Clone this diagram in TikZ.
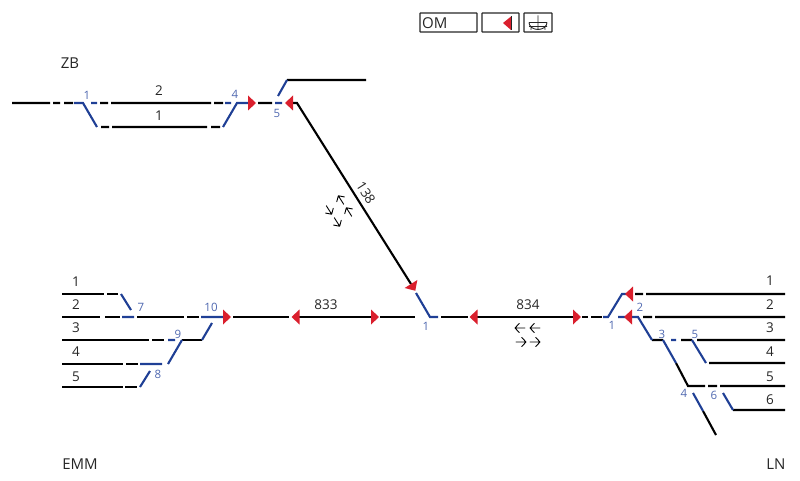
\documentclass[tikz,border=0pt]{standalone}
\usepackage{fontspec}
\setmainfont{Open Sans}
\definecolor{trackblue}{HTML}{1F3F95}
\definecolor{labelblue}{HTML}{4F68B0}
\definecolor{sigred}{HTML}{DA1F2D}
\tikzset{
    track/.style = {line width=2.1pt, black},
    switch/.style = {line width=2.1pt, trackblue},
    tracklabel/.style = {font=\fontsize{13.5}{13.5}\selectfont, text=black!85, inner sep=0pt},
    switchlabel/.style = {font=\fontsize{11.5}{11.5}\selectfont, text=labelblue, inner sep=0pt},
    placelabel/.style = {font=\fontsize{15}{15}\selectfont, text=black!85, inner sep=0pt},
    iconbox/.style = {draw=black!85, line width=1.1pt, rounded corners=0.5pt},
    sigright/.pic = {\fill[sigred] (0,-7.5) -- (8,0) -- (0,7.5) -- cycle;},
    sigleft/.pic = {\fill[sigred] (0,-7.5) -- (-8,0) -- (0,7.5) -- cycle;},
    dirarrow/.pic = {\draw[line width=0.9pt, black, line cap=round, line join=round] (-5,0) -- (5,0) (0.8,-4.5) -- (5,0) -- (0.8,4.5);}
}
\begin{document}
\begin{tikzpicture}[x = 1pt, y = -1pt]
    \useasboundingbox (0,0) rectangle (800,481);
    % legend
    \draw[iconbox] (420,13) rectangle (477,32);
    \draw[iconbox] (482,13) rectangle (519,32);
    \draw[iconbox] (524,13) rectangle (552,32);
    \node[anchor=west, font=\fontsize{15}{15}\selectfont, text=black!85, inner sep=0pt] (om) at (422,23) {OM};
    \fill[sigred] (503,23) -- (511,16.5) -- (511,30) -- cycle;
    \draw[line width=0.8pt, black!85] (511.5,16.5) -- (511.5,30);
    \draw[line width=0.9pt, black!85] (529,22.5) arc [start angle=180, end angle=0, x radius=9, y radius=7]
    (529,22.5) -- (547,22.5) (529,26.5) -- (547,26.5) (538,15.5) -- (538,30) (531,26.5) -- (531,30) (545,26.5) -- (545,30);
    % ZB
    \draw[track]
    (12,103) -- (50,103) (53,103) -- (60,103) (64,103) -- (73,103)
    (100,103) -- (108,103) (111,103) -- (211,103) (214,103) -- (223,103)
    (258,103) -- (272,103)
    (101,127) -- (109,127) (112,127) -- (207,127) (211,127) -- (220,127)
    (287,80) -- (366,80)
    (293,103) -- (297,103) -- (411,284);
    \draw[switch]
    (74,103) -- (83,103) -- (97,127)
    (91,103) -- (97,103)
    (225,103) -- (231,103)
    (223,127) -- (237,103) -- (250,103)
    (275,103) -- (282,103)
    (278,96) -- (287,80);
    \pic at (248,103) {sigright};
    \pic at (293,103) {sigleft};
    \pic[rotate=-57.7] at (411,284) {sigright};
    \node[placelabel] (zb) at (70,63) {ZB};
    \node[tracklabel] (zbtwo) at (159,91) {2};
    \node[tracklabel] (zbone) at (159,116) {1};
    \node[switchlabel] (zbswone) at (87,95) {1};
    \node[switchlabel] (zbswfour) at (235,94) {4};
    \node[switchlabel] (zbswfive) at (277,113) {5};
    % line 138
    \node[tracklabel, rotate=-57.7] (linethree) at (366,193) {138};
    \pic[rotate=-57.7+180] at (341,200) {dirarrow};
    \pic[rotate=-57.7+180] at (349,212) {dirarrow};
    \pic[rotate=-57.7] at (329,210) {dirarrow};
    \pic[rotate=-57.7] at (337,222) {dirarrow};
    % EMM
    \draw[track]
    (62,294) -- (104,294) (107,294) -- (118,294)
    (62,317) -- (100,317) (105,317) -- (120,317)
    (137,317) -- (184,317) (187,317) -- (199,317)
    (62,340) -- (149,340) (152,340) -- (164,340)
    (182,340) -- (202,340)
    (62,364) -- (123,364) (126,364) -- (138,364)
    (62,387) -- (123,387) (125,387) -- (137,387);
    \draw[switch]
    (121,294) -- (131,310)
    (122,317) -- (134,317)
    (201,317) -- (224,317)
    (168,340) -- (175,340)
    (168,364) -- (182,340)
    (202,340) -- (212,323)
    (140,364) -- (162,364)
    (140,387) -- (150,371);
    \pic at (223,317) {sigright};
    \node[tracklabel] (emmone) at (76,282) {1};
    \node[tracklabel] (emmtwo) at (76,305) {2};
    \node[tracklabel] (emmthree) at (76,328) {3};
    \node[tracklabel] (emmfour) at (76,352) {4};
    \node[tracklabel] (emmfive) at (76,377) {5};
    \node[switchlabel] (emmswseven) at (141,307) {7};
    \node[switchlabel] (emmswten) at (211,307) {10};
    \node[switchlabel] (emmswnine) at (178,334) {9};
    \node[switchlabel] (emmsweight) at (158,374) {8};
    \node[placelabel] (emm) at (80,464) {EMM};
    % middle
    \draw[track]
    (233,317) -- (289,317)
    (299,317) -- (371,317)
    (380,317) -- (415,317)
    (441,317) -- (468,317)
    (477,317) -- (573,317)
    (582,317) -- (588,317) (591,317) -- (602,317);
    \draw[switch]
    (416,293) -- (430,317) -- (438,317);
    \pic at (299.5,317) {sigleft};
    \pic at (371,317) {sigright};
    \pic at (477.5,317) {sigleft};
    \pic at (573,317) {sigright};
    \node[tracklabel] (lineeight) at (326,305) {833};
    \node[tracklabel] (linenine) at (528,305) {834};
    \node[switchlabel] (midswone) at (426,326) {1};
    \pic[rotate=180] at (520,328) {dirarrow};
    \pic[rotate=180] at (535,328) {dirarrow};
    \pic at (521,342) {dirarrow};
    \pic at (535,342) {dirarrow};
    % LN
    \draw[track]
    (635,294) -- (643,294) (646,294) -- (785,294)
    (643,317) -- (652,317) (655,317) -- (785,317)
    (652,340) -- (663,340)
    (681,340) -- (692,340) (697,340) -- (785,340)
    (709,363) -- (785,363)
    (676,363) -- (688,386) -- (705,386) (708,386) -- (717,386) (720,386) -- (785,386)
    (733,410) -- (785,410)
    (703,411) -- (716,435);
    \draw[switch]
    (603,317) -- (608,317) -- (622,294) -- (628,294)
    (618,317) -- (638,317) -- (652,340)
    (663,340) -- (676,363)
    (671,340) -- (676,340)
    (692,340) -- (706,363)
    (693,393) -- (703,411)
    (723,393) -- (733,410);
    \pic at (633,294) {sigleft};
    \pic at (632,317) {sigleft};
    \node[tracklabel] (lnone) at (770,281) {1};
    \node[tracklabel] (lntwo) at (770,305) {2};
    \node[tracklabel] (lnthree) at (770,328) {3};
    \node[tracklabel] (lnfour) at (770,352) {4};
    \node[tracklabel] (lnfive) at (770,377) {5};
    \node[tracklabel] (lnsix) at (770,400) {6};
    \node[switchlabel] (lnswone) at (612,325) {1};
    \node[switchlabel] (lnswtwo) at (640,307) {2};
    \node[switchlabel] (lnswthree) at (662,334) {3};
    \node[switchlabel] (lnswfive) at (695,334) {5};
    \node[switchlabel] (lnswfour) at (684,393) {4};
    \node[switchlabel] (lnswsix) at (714,395) {6};
    \node[placelabel] (ln) at (776,464) {LN};
\end{tikzpicture}
\end{document}
